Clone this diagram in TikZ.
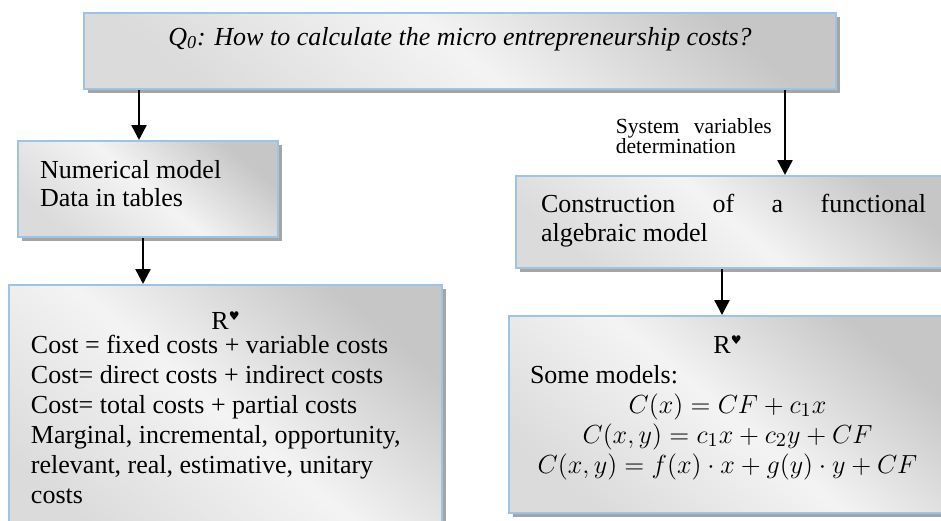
\documentclass[tikz,border=0pt]{standalone}
\usepackage{fontspec}
\setmainfont{Liberation Serif}
\newfontfamily\symfont{DejaVu Sans}
\usepackage{xcolor}
\usepackage{graphicx}
\usepackage{amsmath}
\usetikzlibrary{positioning, arrows.meta, shadows}

\definecolor{boxblue}{HTML}{9DC3E6}
\definecolor{shadowgray}{HTML}{A5A5A5}

% width, height, top gap, text
\newcommand{\boxbody}[4]{\parbox[c][#2][t]{#1}{\vspace*{#3}#4}}
\newcommand{\rheart}{R\raisebox{4.2pt}{\symfont\fontsize{6}{6}\selectfont ♥}}
\newcommand{\modeleq}[1]{\makebox[\linewidth]{\scalebox{1.09}{$#1$}}}

\begin{document}
\begin{tikzpicture}[x=0.5pt,y=-0.5pt,
                    costbox/.style={draw=boxblue,line width=1pt,inner xsep=11pt,inner ysep=0pt,
                      anchor=north west,top color=gray!45,bottom color=gray!28,middle color=gray!9,
                      shading angle=-40,
                      drop shadow={shadow xshift=2pt,shadow yshift=-2pt,fill=shadowgray,opacity=1},
                      font=\fontsize{13}{15}\selectfont},
                    arr/.style={-{Triangle[length=7.5pt,width=7.5pt]},line width=1.2pt},
                    sidelabel/.style={font=\fontsize{10.8}{10}\selectfont,text width=78pt,
                      inner sep=0pt,align=left}]

 \useasboundingbox (0,0) rectangle (941,520);

 \node[costbox] (q0) at (83,12)
   {\boxbody{354pt}{38pt}{5.5pt}{\centering\strut\textit{Q\textsubscript{0}: How to calculate the micro entrepreneurship costs?}}};

 \node[costbox] (num) at (17,140)
   {\boxbody{108pt}{48pt}{8pt}{\strut Numerical model\\[-0.8pt] Data in tables}};

 \node[costbox,inner xsep=12.5pt] (alg) at (515,175)
   {\boxbody{192.5pt}{46pt}{7.8pt}{\strut Construction\hfill of\hfill a\hfill functional\\[-0.8pt] algebraic model}};

 \node[costbox] (rnum) at (8,284)
   {\boxbody{194.5pt}{130pt}{11.5pt}{\makebox[\linewidth]{\strut\rheart}\\[-3pt]
     Cost = fixed costs + variable costs\\
     Cost= direct costs + indirect costs\\
     Cost= total costs + partial costs\\
     Marginal, incremental, opportunity,\\
     relevant, real, estimative, unitary\\
     costs}};

 \node[costbox,inner xsep=10.5pt] (ralg) at (508,315)
   {\boxbody{197.5pt}{98.5pt}{8pt}{\makebox[\linewidth]{\strut\rheart}\\
     Some models:\\
     \modeleq{C(x) = CF + c_1x}\\
     \modeleq{C(x,y) = c_1x + c_2y + CF}\\
     \modeleq{C(x,y) = f(x)\cdot x + g(y)\cdot y + CF}}};

 \path
 (q0.south -| 139,0) edge[arr] (num.north -| 139,0)
 (num.south -| 143,0) edge[arr] (rnum.north -| 143,0)
 (q0.south -| 785,0) edge[arr] node[sidelabel,pos=0.54,left=6pt] (vars)
      {System\hfill variables\\determination} (alg.north -| 785,0)
 (alg.south -| 722,0) edge[arr] (ralg.north -| 722,0);

\end{tikzpicture}
\end{document}
